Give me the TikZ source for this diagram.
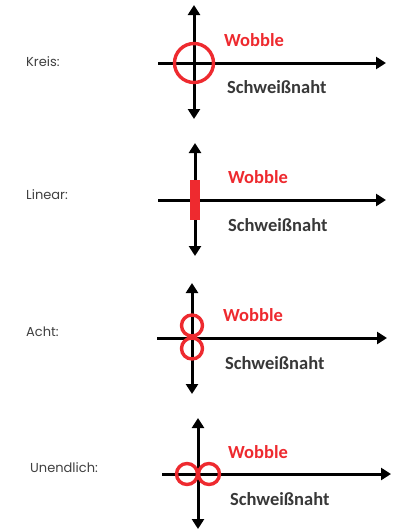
\documentclass[tikz,border=0pt]{standalone}
\usepackage{fontspec}
\setmainfont{Carlito}
\newfontfamily\labelfont{Poppins}
\usetikzlibrary{arrows.meta}
\definecolor{wred}{HTML}{EE2A2F}
\definecolor{seamgray}{HTML}{383838}
\definecolor{labelgray}{HTML}{404040}
\tikzset{
  axis/.style={line width=3pt, draw=black, arrows={-Triangle[width=12pt,length=10pt]}},
  biaxis/.style={line width=3pt, draw=black, arrows={Triangle[width=12pt,length=10pt]-Triangle[width=12pt,length=10pt]}},
  wobblepath/.style={draw=wred, line width=3.4pt},
  wobbletxt/.style={text=wred, font=\bfseries\fontsize{18.5}{18.5}\selectfont, anchor=west, inner sep=0pt},
  seamtxt/.style={text=seamgray, font=\bfseries\fontsize{18.5}{18.5}\selectfont, anchor=west, inner sep=0pt},
  kindtxt/.style={text=labelgray, font=\labelfont\fontsize{13}{13}\selectfont, anchor=west, inner sep=0pt}
}
\begin{document}
\begin{tikzpicture}[x=1pt,y=-1pt]
\useasboundingbox[fill=white] (0,0) rectangle (394,531);

% Kreis
\node[kindtxt] (k1) at (26,62) {Kreis:};
\coordinate (k1t) at (194,5);
\coordinate (k1b) at (194,119);
\coordinate (k1l) at (158,63);
\coordinate (k1r) at (386,63);
\draw[biaxis] (k1b) -- (k1t);
\draw[axis] (k1l) -- (k1r);
\draw[wobblepath] (194,63) circle[radius=19.5];
\node[wobbletxt] (w1) at (224,40) {Wobble};
\node[seamtxt] (s1) at (227,87) {Schweißnaht};

% Linear
\node[kindtxt] (k2) at (26,195) {Linear:};
\coordinate (k2t) at (195,143);
\coordinate (k2b) at (195,256);
\coordinate (k2l) at (158,200);
\coordinate (k2r) at (386,200);
\draw[biaxis] (k2b) -- (k2t);
\draw[axis] (k2l) -- (k2r);
\fill[wred] (190,180) rectangle (200,220);
\node[wobbletxt] (w2) at (228,177) {Wobble};
\node[seamtxt] (s2) at (228,225) {Schweißnaht};

% Acht
\node[kindtxt] (k3) at (26,332) {Acht:};
\coordinate (k3t) at (192,283);
\coordinate (k3b) at (192,394);
\coordinate (k3l) at (157,338);
\coordinate (k3r) at (387,338);
\draw[biaxis] (k3b) -- (k3t);
\draw[axis] (k3l) -- (k3r);
\draw[wobblepath] (192,325.5) circle[radius=10.5];
\draw[wobblepath] (192,348.5) circle[radius=10.5];
\node[wobbletxt] (w3) at (223,315) {Wobble};
\node[seamtxt] (s3) at (225,363) {Schweißnaht};

% Unendlich
\node[kindtxt] (k4) at (30,468) {Unendlich:};
\coordinate (k4t) at (198,418);
\coordinate (k4b) at (198,529);
\coordinate (k4l) at (162,474);
\coordinate (k4r) at (391,474);
\draw[biaxis] (k4b) -- (k4t);
\draw[axis] (k4l) -- (k4r);
\draw[wobblepath] (187,474) circle[radius=10.5];
\draw[wobblepath] (209,474) circle[radius=10.5];
\node[wobbletxt] (w4) at (228,452) {Wobble};
\node[seamtxt] (s4) at (230,499) {Schweißnaht};
\end{tikzpicture}
\end{document}
